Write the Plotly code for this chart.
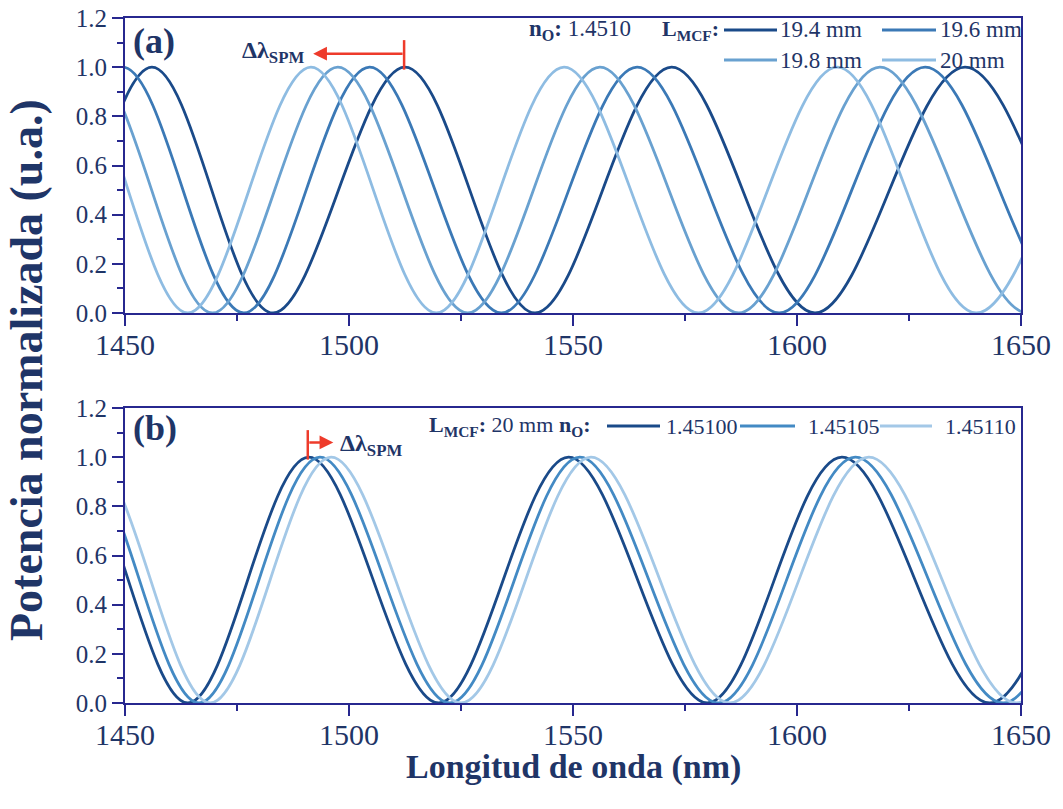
import plotly.graph_objects as go
from plotly.subplots import make_subplots

# ---------------- data ----------------
# (a) n_O = 1.4510, different MCF lengths: wavelengths (nm) of the maxima / minima
len_labels = ["19.4 mm", "19.6 mm", "19.8 mm", "20 mm"]
len_peaks = [
    [1403.0, 1456.0, 1512.5, 1572.0, 1637.5, 1707.0],
    [1396.0, 1449.5, 1504.6, 1564.3, 1628.6, 1697.0],
    [1389.0, 1442.5, 1497.5, 1556.0, 1618.5, 1685.0],
    [1384.0, 1437.5, 1491.5, 1548.0, 1609.0, 1674.0],
]
len_troughs = [
    [1429.5, 1483.0, 1541.5, 1604.0, 1672.0],
    [1422.5, 1476.5, 1534.0, 1596.0, 1662.0],
    [1415.5, 1469.5, 1526.5, 1587.0, 1651.5],
    [1411.0, 1464.0, 1519.5, 1578.0, 1640.0, 1709.0],
]

# (b) L_MCF = 20 mm, different n_O
n_labels = ["1.45100", "1.45105", "1.45110"]
n_peaks = [
    [1384.0, 1437.5, 1491.0, 1549.0, 1610.0, 1676.0],
    [1386.5, 1440.0, 1493.5, 1551.5, 1613.0, 1679.0],
    [1389.0, 1442.5, 1496.0, 1554.0, 1616.0, 1682.0],
]
n_troughs = [
    [1411.0, 1464.0, 1520.0, 1580.0, 1643.0, 1711.0],
    [1413.5, 1466.5, 1522.5, 1582.5, 1646.0, 1714.0],
    [1416.0, 1469.0, 1525.0, 1585.0, 1649.0, 1717.0],
]

x_ticks = [1450, 1500, 1550, 1600, 1650]
y_ticks = [0.0, 0.2, 0.4, 0.6, 0.8, 1.0, 1.2]

# shift markers (nm) for the SPM arrows
spm_a = (1512.3, 1492.0)
spm_b = (1490.8, 1496.5)

# ---------------- style ----------------
len_colors = ["#1a4a89", "#3b79b6", "#69a1d0", "#8ebce2"]
n_colors = ["#1a4a89", "#438ac4", "#a3c8e7"]
AXIS = "#27288f"
TXT = "#1f3567"
RED = "#ee3b2b"
FONT = "Liberation Serif"

W, H = 1063, 809
L, R, T, B = 125, 1021, 18, 703


def px(x):
    return (x - L) / (R - L)


def py(y):
    return (B - y) / (B - T)


def extrema(peaks, troughs):
    pts = sorted([(p, 1.0) for p in peaks] + [(t, 0.0) for t in troughs])
    return [p[0] for p in pts], [p[1] for p in pts]


fig = make_subplots(rows=2, cols=1, vertical_spacing=(408 - 313) / (B - T))

for lab, col, pk, tr in zip(len_labels, len_colors, len_peaks, len_troughs):
    xs, ys = extrema(pk, tr)
    fig.add_trace(go.Scatter(x=xs, y=ys, mode="lines", name=lab,
                             line=dict(color=col, width=2.8, shape="spline", smoothing=1.0),
                             showlegend=False), row=1, col=1)

for lab, col, pk, tr in zip(n_labels, n_colors, n_peaks, n_troughs):
    xs, ys = extrema(pk, tr)
    fig.add_trace(go.Scatter(x=xs, y=ys, mode="lines", name=lab,
                             line=dict(color=col, width=2.8, shape="spline", smoothing=1.0),
                             showlegend=False), row=2, col=1)

xax = dict(range=[1450, 1650], tickvals=x_ticks, ticks="outside", ticklen=11, tickwidth=2,
           tickcolor=AXIS, showline=True, linecolor=AXIS, linewidth=2, mirror=True,
           showgrid=False, zeroline=False, automargin=False, ticklabelstandoff=-7,
           tickfont=dict(family=FONT, size=30, color=TXT),
           minor=dict(dtick=25, tick0=1450, ticks="outside", ticklen=6, tickwidth=1.5, tickcolor=AXIS))
yax = dict(range=[0, 1.2], tickvals=y_ticks, tickformat=".1f", ticks="outside", ticklen=11,
           tickwidth=2, tickcolor=AXIS, showline=True, linecolor=AXIS, linewidth=2, mirror=True,
           showgrid=False, zeroline=False, automargin=False,
           tickfont=dict(family=FONT, size=25, color=TXT),
           minor=dict(dtick=0.1, tick0=0, ticks="outside", ticklen=6, tickwidth=1.5, tickcolor=AXIS))
fig.update_xaxes(**xax)
fig.update_yaxes(**yax)

ann = []
shapes = []


def text(x, y, s, size, anchor="left", bold=False):
    if bold:
        s = "<b>" + s + "</b>"
    ann.append(dict(x=px(x), y=py(y), xref="paper", yref="paper", text=s, showarrow=False,
                    xanchor=anchor, yanchor="middle",
                    font=dict(family=FONT, size=size, color=TXT)))


def sample(x0, x1, y, color):
    shapes.append(dict(type="line", xref="paper", yref="paper", x0=px(x0), x1=px(x1),
                       y0=py(y), y1=py(y), line=dict(color=color, width=3)))


# panel labels
text(131, 41, "(a)", 36, bold=True)
text(131, 428, "(b)", 36, bold=True)

# legend (a)
text(527, 30, "<b>n<sub>O</sub>:</b> 1.4510", 23)
text(660, 30, "<b>L<sub>MCF</sub>:</b>", 22)
sample(724, 777, 30, len_colors[0]); text(778, 30, len_labels[0], 23)
sample(882, 936, 30, len_colors[1]); text(938, 30, len_labels[1], 23)
sample(724, 777, 60, len_colors[2]); text(778, 60, len_labels[2], 23)
sample(882, 936, 60, len_colors[3]); text(938, 60, len_labels[3], 23)

# legend (b)
text(427, 426, "<b>L<sub>MCF</sub>:</b> 20 mm", 22)
text(557, 426, "<b>n<sub>O</sub>:</b>", 22)
sample(607, 660, 426, n_colors[0]); text(664, 426, n_labels[0], 22)
sample(740, 795, 426, n_colors[1]); text(806, 426, n_labels[1], 22)
sample(880, 932, 426, n_colors[2]); text(943, 426, n_labels[2], 22)

# SPM shift markers
shapes.append(dict(type="line", xref="x", yref="y", x0=spm_a[0], x1=spm_a[0], y0=0.99, y1=1.11,
                   line=dict(color=RED, width=2.5)))
ann.append(dict(x=spm_a[1], y=1.055, ax=spm_a[0], ay=1.055, xref="x", yref="y", axref="x", ayref="y",
                text="", showarrow=True, arrowhead=2, arrowsize=1.1, arrowwidth=2.5, arrowcolor=RED))
ann.append(dict(x=spm_a[1] - 1.5, y=1.06, xref="x", yref="y", xanchor="right", yanchor="middle",
                text="<b>Δλ<sub>SPM</sub></b>", showarrow=False, font=dict(family=FONT, size=24, color=TXT)))

shapes.append(dict(type="line", xref="x2", yref="y2", x0=spm_b[0], x1=spm_b[0], y0=0.99, y1=1.11,
                   line=dict(color=RED, width=2.5)))
ann.append(dict(x=spm_b[1], y=1.06, ax=spm_b[0], ay=1.06, xref="x2", yref="y2", axref="x2", ayref="y2",
                text="", showarrow=True, arrowhead=2, arrowsize=1.1, arrowwidth=2.5, arrowcolor=RED))
ann.append(dict(x=spm_b[1] + 1.0, y=1.05, xref="x2", yref="y2", xanchor="left", yanchor="middle",
                text="<b>Δλ<sub>SPM</sub></b>", showarrow=False, font=dict(family=FONT, size=24, color=TXT)))

# axis titles
ann.append(dict(x=px(573), y=py(767), xref="paper", yref="paper", text="<b>Longitud de onda (nm)</b>",
                showarrow=False, xanchor="center", yanchor="middle",
                font=dict(family=FONT, size=34, color=TXT)))
ann.append(dict(x=px(26), y=py(370), xref="paper", yref="paper", text="<b>Potencia normalizada (u.a.)</b>",
                showarrow=False, xanchor="center", yanchor="middle", textangle=-90,
                font=dict(family=FONT, size=46, color=TXT)))

fig.update_layout(width=W, height=H, margin=dict(l=L, r=W - R, t=T, b=H - B, autoexpand=False),
                  paper_bgcolor="white", plot_bgcolor="white",
                  annotations=ann, shapes=shapes, showlegend=False)

fig.write_html("out.html")
